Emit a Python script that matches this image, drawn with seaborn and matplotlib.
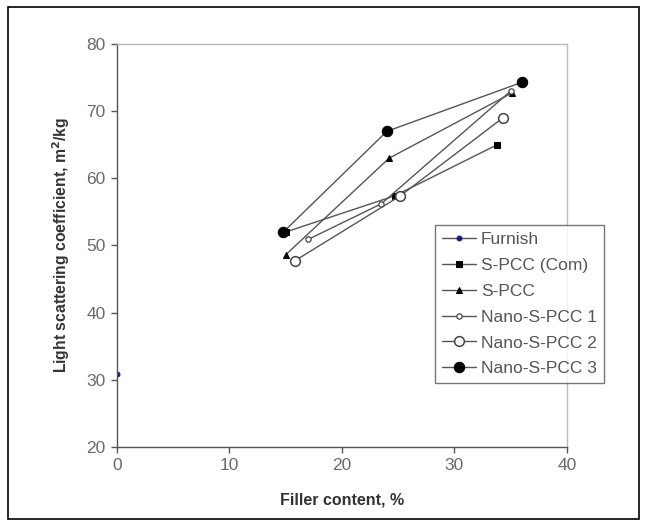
import matplotlib
matplotlib.use('Agg')
import matplotlib.pyplot as plt
import seaborn as sns
import pandas as pd
from matplotlib.patches import Rectangle

# data
furnish_x = [0]
furnish_y = [30.9]
spcc_com_x = [15.0, 24.7, 33.8]
spcc_com_y = [52.0, 57.4, 65.0]
spcc_x = [15.0, 24.2, 35.1]
spcc_y = [48.6, 63.0, 72.7]
nano1_x = [17.0, 23.5, 35.0]
nano1_y = [50.9, 56.2, 73.0]
nano2_x = [15.8, 25.2, 34.3]
nano2_y = [47.7, 57.4, 69.0]
nano3_x = [14.8, 24.0, 36.0]
nano3_y = [52.0, 67.0, 74.3]

series = [
    ('Furnish', furnish_x, furnish_y, dict(marker='o', ms=3.5, mfc='#1a1a80', mec='#1a1a80')),
    ('S-PCC (Com)', spcc_com_x, spcc_com_y, dict(marker='s', ms=4, mfc='black', mec='black')),
    ('S-PCC', spcc_x, spcc_y, dict(marker='^', ms=4.5, mfc='black', mec='black')),
    ('Nano-S-PCC 1', nano1_x, nano1_y, dict(marker='o', ms=3.8, mfc='white', mec='#444444', mew=0.9)),
    ('Nano-S-PCC 2', nano2_x, nano2_y, dict(marker='o', ms=7, mfc='white', mec='#444444', mew=1.1)),
    ('Nano-S-PCC 3', nano3_x, nano3_y, dict(marker='o', ms=7.5, mfc='black', mec='black')),
]

sns.set_style('white')
plt.rcParams['font.family'] = ['Liberation Sans', 'DejaVu Sans']

fig = plt.figure(figsize=(6.45, 5.24), dpi=100)
ax = fig.add_axes([0.181, 0.147, 0.698, 0.769])

for name, xs, ys, mk in series:
    df = pd.DataFrame({'x': xs, 'y': ys})
    sns.lineplot(data=df, x='x', y='y', ax=ax, color='#555555', lw=1.0,
                 label=name, sort=False, **mk)

ax.set_xlim(0, 40)
ax.set_ylim(20, 80)
ax.set_xticks([0, 10, 20, 30, 40])
ax.set_yticks([20, 30, 40, 50, 60, 70, 80])
ax.tick_params(direction='out', length=4, width=1, colors='#555555',
               labelcolor='#6a6a6a', labelsize=12.5, left=True, bottom=True, pad=4)
for s in ['left', 'bottom']:
    ax.spines[s].set_color('#555555')
    ax.spines[s].set_linewidth(1.0)
for s in ['top', 'right']:
    ax.spines[s].set_color('#bbbbbb')
    ax.spines[s].set_linewidth(1.0)

ax.set_xlabel('Filler content, %', fontsize=11.5, fontweight='bold', color='#333333', labelpad=14)
ax.set_ylabel('Light scattering coefficient, m$^{\\mathbf{2}}$/kg', fontsize=11.3,
              fontweight='bold', color='#333333', labelpad=10)

leg = ax.legend(loc='upper left', bbox_to_anchor=(0.674, 0.571), bbox_transform=fig.transFigure,
                frameon=True, fancybox=False, edgecolor='#555555', fontsize=12.5,
                labelspacing=0.62, handlelength=2.0, handletextpad=0.25, borderpad=0.4,
                borderaxespad=0)
leg.get_frame().set_linewidth(1.0)
for t in leg.get_texts():
    t.set_color('#555555')

fig.patches.append(Rectangle((0.012, 0.01), 0.978, 0.976, transform=fig.transFigure,
                             fill=False, edgecolor='black', lw=1.2))

fig.savefig('out.png', dpi=100)
